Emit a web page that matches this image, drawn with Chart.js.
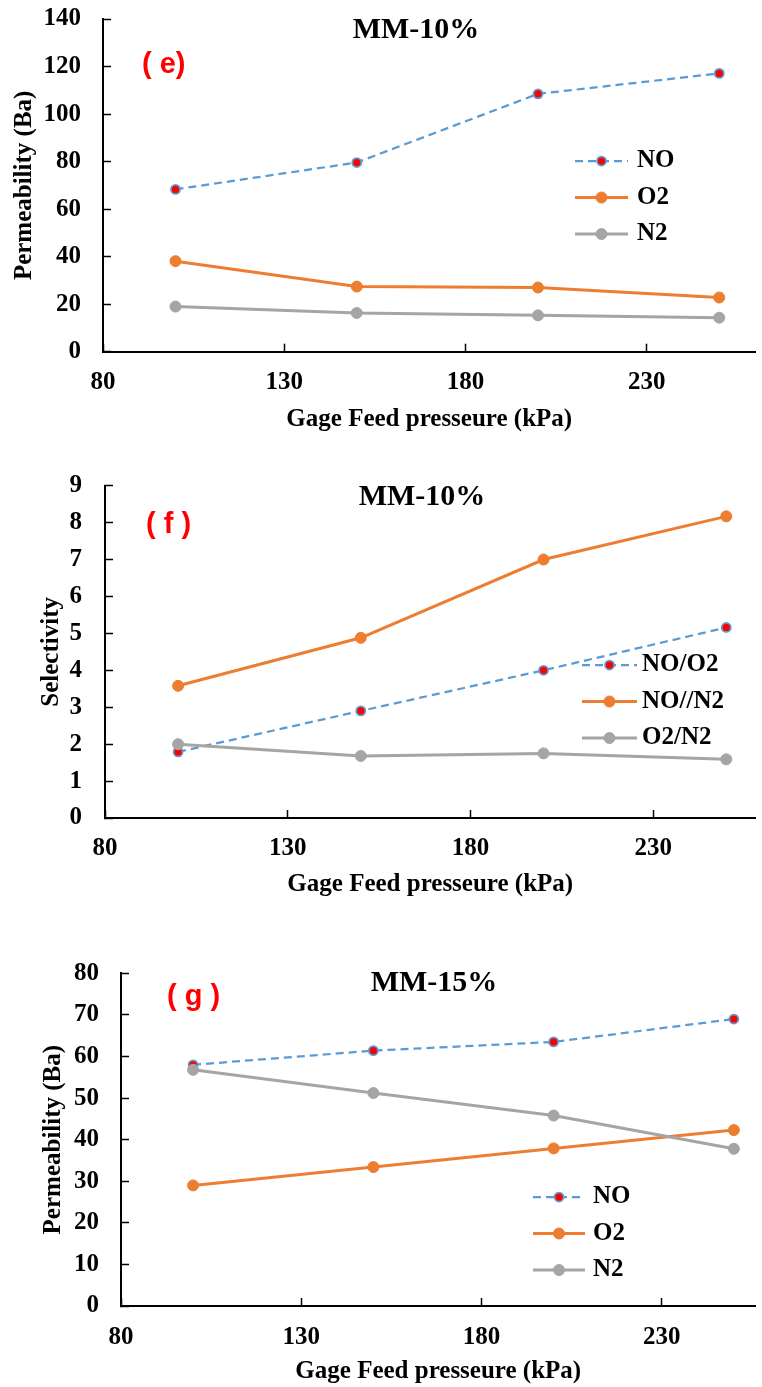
<!DOCTYPE html>
<html>
<head>
<meta charset="utf-8">
<script src="https://cdn.jsdelivr.net/npm/chart.js@4.4.1/dist/chart.umd.min.js"></script>
<style>
  html, body { margin: 0; padding: 0; background: #fff; }
  body { width: 762px; height: 1387px; position: relative; overflow: hidden; }
  canvas { position: absolute; left: 0; }
</style>
</head>
<body>
<canvas id="chartE" width="762" height="445" style="top:0px"></canvas>
<canvas id="chartF" width="762" height="450" style="top:460px"></canvas>
<canvas id="chartG" width="762" height="457" style="top:930px"></canvas>
<script>
// data
const pressure = [100, 150, 200, 250]
const xTicks = [80, 130, 180, 230]

// (e) MM-10% permeability
const permNO10 = [68.3, 79.6, 108.5, 117.1]
const permO210 = [38.1, 27.4, 27.0, 22.8]
const permN210 = [19.0, 16.3, 15.3, 14.3]
const permTicks10 = [0, 20, 40, 60, 80, 100, 120, 140]

// (f) MM-10% selectivity
const selNOO2 = [1.79, 2.90, 4.00, 5.16]
const selNON2 = [3.58, 4.88, 7.00, 8.17]
const selO2N2 = [2.00, 1.68, 1.75, 1.59]
const selTicks = [0, 1, 2, 3, 4, 5, 6, 7, 8, 9]

// (g) MM-15% permeability
const permNO15 = [58.0, 61.4, 63.5, 69.0]
const permO215 = [29.0, 33.4, 37.9, 42.3]
const permN215 = [56.8, 51.2, 45.8, 37.8]
const permTicks15 = [0, 10, 20, 30, 40, 50, 60, 70, 80]

const serif = "'Liberation Serif', 'Times New Roman', serif"
const sans = "'Liberation Sans', Arial, sans-serif"

function toXY(values) {
    return pressure.map(function (x, i) { return { x: x, y: values[i] } })
}

function dashedSet(label, values) {
    return {
        label: label, data: toXY(values),
        borderColor: '#5B9BD5', borderWidth: 2.25, borderDash: [8, 5],
        pointRadius: 4.5, pointBackgroundColor: '#FF0000',
        pointBorderColor: '#5B9BD5', pointBorderWidth: 1.75,
        tension: 0, order: 3
    }
}
function solidSet(label, values, color, order) {
    return {
        label: label, data: toXY(values),
        borderColor: color, borderWidth: 3,
        pointRadius: 5.5, pointBackgroundColor: color,
        pointBorderColor: color, pointBorderWidth: 1,
        tension: 0, order: order
    }
}

// title, panel letter and the in-plot legend
const overlay = {
    id: 'overlay',
    afterDraw(chart, args, o) {
        const ctx = chart.ctx
        ctx.save()
        ctx.textBaseline = 'middle'
        ctx.fillStyle = '#000'
        ctx.font = 'bold 30px ' + serif
        ctx.textAlign = 'center'
        ctx.fillText(o.title, o.titleX, o.titleY)

        ctx.fillStyle = '#FF0000'
        ctx.font = 'bold 29px ' + sans
        ctx.textAlign = 'left'
        ctx.fillText(o.panel, o.panelX, o.panelY)

        chart.data.datasets.forEach(function (ds, i) {
            const y = o.legendY + i * o.legendGap
            ctx.beginPath()
            ctx.setLineDash(ds.borderDash || [])
            ctx.strokeStyle = ds.borderColor
            ctx.lineWidth = ds.borderWidth
            ctx.moveTo(o.legendX0, y)
            ctx.lineTo(o.legendX1, y)
            ctx.stroke()
            ctx.setLineDash([])
            ctx.beginPath()
            ctx.arc((o.legendX0 + o.legendX1) / 2, y, ds.pointRadius, 0, Math.PI * 2)
            ctx.fillStyle = ds.pointBackgroundColor
            ctx.fill()
            ctx.lineWidth = ds.pointBorderWidth
            ctx.strokeStyle = ds.pointBorderColor
            ctx.stroke()
            ctx.fillStyle = '#000'
            ctx.font = 'bold 25px ' + serif
            ctx.textAlign = 'left'
            ctx.fillText(ds.label, o.legendTextX, y)
        })
        ctx.restore()
    }
}

function makeChart(id, datasets, p) {
    const tickFont = { family: serif, size: 25, weight: 'bold' }
    const grid = { display: true, drawOnChartArea: false, drawTicks: true, tickLength: -8, color: '#000', tickWidth: 1.5 }
    const border = { display: true, color: '#000', width: 2 }
    return new Chart(document.getElementById(id), {
        type: 'line',
        data: { datasets: datasets },
        plugins: [overlay],
        options: {
            responsive: false,
            animation: false,
            devicePixelRatio: 1,
            layout: { padding: { top: p.padTop, right: p.padRight, left: 0, bottom: 0 } },
            scales: {
                x: {
                    type: 'linear', min: 80, max: p.xMax,
                    afterBuildTicks: function (s) { s.ticks = xTicks.map(function (v) { return { value: v } }) },
                    afterFit: function (s) { s.height = p.xHeight },
                    grid: grid, border: border,
                    ticks: { color: '#000', font: tickFont, padding: p.xTickPad, maxRotation: 0, autoSkip: false },
                    title: {
                        display: true, text: 'Gage Feed presseure (kPa)', color: '#000',
                        font: tickFont, padding: { top: 0, bottom: p.xTitlePad }
                    }
                },
                y: {
                    type: 'linear', min: 0, max: p.yTicks[p.yTicks.length - 1],
                    afterBuildTicks: function (s) { s.ticks = p.yTicks.map(function (v) { return { value: v } }) },
                    afterFit: function (s) {
                        s.width = p.yWidth
                        // the big label padding should not push the plot down
                        s.paddingTop = 15
                        s.paddingBottom = 15
                    },
                    grid: grid, border: border,
                    ticks: { color: '#000', font: tickFont, padding: p.yTickPad },
                    title: {
                        display: true, text: p.yTitle, color: '#000',
                        font: tickFont, padding: { top: p.yTitlePad, bottom: 0 }
                    }
                }
            },
            plugins: {
                legend: { display: false },
                tooltip: { enabled: false },
                overlay: p.overlay
            }
        }
    })
}

makeChart('chartE', [
    dashedSet('NO', permNO10),
    solidSet('O2', permO210, '#ED7D31', 2),
    solidSet('N2', permN210, '#A5A5A5', 1)
], {
    padTop: 19, padRight: 4, xMax: 260, xHeight: 93.3, yWidth: 103,
    xTickPad: 24, xTitlePad: 10.5, yTickPad: 30, yTitlePad: 9.5,
    yTicks: permTicks10, yTitle: 'Permeability (Ba)',
    overlay: {
        title: 'MM-10%', titleX: 416, titleY: 30,
        panel: '( e)', panelX: 142, panelY: 65,
        legendX0: 575, legendX1: 628, legendTextX: 637, legendY: 161, legendGap: 36.5
    }
})

makeChart('chartF', [
    dashedSet('NO/O2', selNOO2),
    solidSet('NO//N2', selNON2, '#ED7D31', 2),
    solidSet('O2/N2', selO2N2, '#A5A5A5', 1)
], {
    padTop: 25.7, padRight: 0, xMax: 258, xHeight: 92, yWidth: 105,
    xTickPad: 24, xTitlePad: 10.5, yTickPad: 31, yTitlePad: 36.5,
    yTicks: selTicks, yTitle: 'Selectivity',
    overlay: {
        title: 'MM-10%', titleX: 422, titleY: 37,
        panel: '( f )', panelX: 146, panelY: 65,
        legendX0: 582, legendX1: 637, legendTextX: 642, legendY: 205, legendGap: 36.5
    }
})

makeChart('chartG', [
    dashedSet('NO', permNO15),
    solidSet('O2', permO215, '#ED7D31', 2),
    solidSet('N2', permN215, '#A5A5A5', 1)
], {
    padTop: 43.3, padRight: 0, xMax: 256, xHeight: 81, yWidth: 121,
    xTickPad: 24.5, xTitlePad: 0, yTickPad: 30, yTitlePad: 38.5,
    yTicks: permTicks15, yTitle: 'Permeability (Ba)',
    overlay: {
        title: 'MM-15%', titleX: 434, titleY: 53,
        panel: '( g )', panelX: 167, panelY: 67,
        legendX0: 533, legendX1: 585, legendTextX: 593, legendY: 267, legendGap: 36.5
    }
})
</script>
</body>
</html>
